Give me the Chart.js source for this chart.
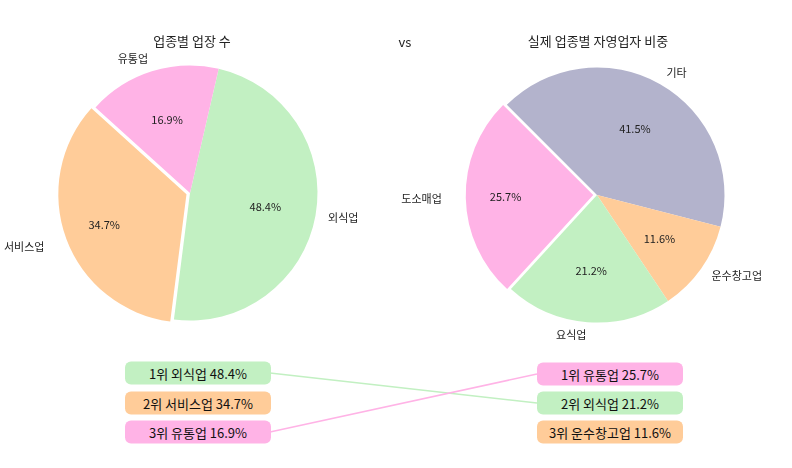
<!DOCTYPE html>
<html>
<head>
<meta charset="utf-8">
<script src="https://cdn.jsdelivr.net/npm/chart.js@4"></script>
<style>
  body { margin: 0; background: #fff; font-family: "Noto Sans CJK KR", "Noto Sans", sans-serif; }
  #wrap { position: relative; width: 792px; height: 468px; }
  canvas { position: absolute; top: 0; }
  .ttl { position: absolute; font-size: 13px; color: #222; transform: translateX(-50%); white-space: nowrap; }
  .box { position: absolute; width: 146px; height: 23px; line-height: 23px; border-radius: 6px;
         text-align: center; font-size: 13px; color: #111; transform: translate(-50%, -50%); }
  svg { position: absolute; left: 0; top: 0; }
</style>
</head>
<body>
<div id="wrap">
  <canvas id="leftPie" width="396" height="345" style="left:0;width:396px;height:345px"></canvas>
  <canvas id="rightPie" width="396" height="345" style="left:396px;width:396px;height:345px"></canvas>
  <div class="ttl" style="left:192px;top:31px">업종별 업장 수</div>
  <div class="ttl" style="left:405px;top:32px">vs</div>
  <div class="ttl" style="left:598px;top:31px">실제 업종별 자영업자 비중</div>
  <svg width="792" height="468">
    <line x1="270" y1="373" x2="537" y2="403" stroke="#c2f0c2" stroke-width="1.5"/>
    <line x1="270" y1="432" x2="537" y2="374" stroke="#ffb3e6" stroke-width="1.5"/>
  </svg>
  <div id="boxes"></div>
</div>
<script>
const leftLabels = ['외식업', '서비스업', '유통업'];
const leftValues = [48.4, 34.7, 16.9];
const leftColors = ['#c2f0c2', '#ffcc99', '#ffb3e6'];
const leftExplode = [0, 15, 0];

const rightLabels = ['기타', '운수창고업', '요식업', '도소매업'];
const rightValues = [41.5, 11.6, 21.2, 25.7];
const rightColors = ['#b3b3cc', '#ffcc99', '#c2f0c2', '#ffb3e6'];
const rightExplode = [0, 0, 0, 15];

const leftRank = ['1위 외식업 48.4%', '2위 서비스업 34.7%', '3위 유통업 16.9%'];
const leftRankColors = ['#c2f0c2', '#ffcc99', '#ffb3e6'];
const rightRank = ['1위 유통업 25.7%', '2위 외식업 21.2%', '3위 운수창고업 11.6%'];
const rightRankColors = ['#ffb3e6', '#c2f0c2', '#ffcc99'];

const boxes = document.getElementById('boxes');
leftRank.forEach(function (t, i) {
  boxes.innerHTML += '<div class="box" style="left:198px;top:' + (373 + i * 29.5) + 'px;background:' + leftRankColors[i] + '">' + t + '</div>';
});
rightRank.forEach(function (t, i) {
  boxes.innerHTML += '<div class="box" style="left:610px;top:' + (374 + i * 29) + 'px;background:' + rightRankColors[i] + '">' + t + '</div>';
});

// matplotlib-style labels: name outside, percent inside
const pieText = {
  id: 'pieText',
  afterDatasetsDraw(chart) {
    const ctx = chart.ctx;
    const meta = chart.getDatasetMeta(0);
    const labels = chart.data.labels;
    const vals = chart.data.datasets[0].data;
    const offs = chart.data.datasets[0].offset;
    ctx.save();
    ctx.fillStyle = '#222';
    meta.data.forEach(function (el, i) {
      const mid = (el.startAngle + el.endAngle) / 2;
      const r = el.outerRadius;
      const cx = el.x + Math.cos(mid) * offs[i];
      const cy = el.y + Math.sin(mid) * offs[i];
      ctx.font = '11px "Noto Sans CJK KR"';
      ctx.textBaseline = 'middle';
      ctx.textAlign = 'center';
      ctx.fillText(vals[i].toFixed(1) + '%', cx + Math.cos(mid) * r * 0.6, cy + Math.sin(mid) * r * 0.6);
      const lx = cx + Math.cos(mid) * r * 1.1;
      ctx.textAlign = Math.cos(mid) < 0 ? 'right' : 'left';
      ctx.fillText(labels[i], lx, cy + Math.sin(mid) * r * 1.1);
    });
    ctx.restore();
  }
};

function makePie(id, labels, values, colors, explode, rotation, padding) {
  new Chart(document.getElementById(id), {
    type: 'pie',
    data: {
      labels: labels,
      datasets: [{
        data: values,
        backgroundColor: colors,
        borderWidth: 0,
        offset: explode
      }]
    },
    options: {
      responsive: false,
      animation: false,
      rotation: rotation,
      layout: { padding: padding },
      plugins: { legend: { display: false }, tooltip: { enabled: false } }
    },
    plugins: [pieText]
  });
}

makePie('leftPie', leftLabels, leftValues, leftColors, leftExplode, 13,
  { left: 55, right: 71, top: 58, bottom: 17 });
makePie('rightPie', rightLabels, rightValues, rightColors, rightExplode, -45,
  { left: 66, right: 60, top: 60, bottom: 15 });
</script>
</body>
</html>
